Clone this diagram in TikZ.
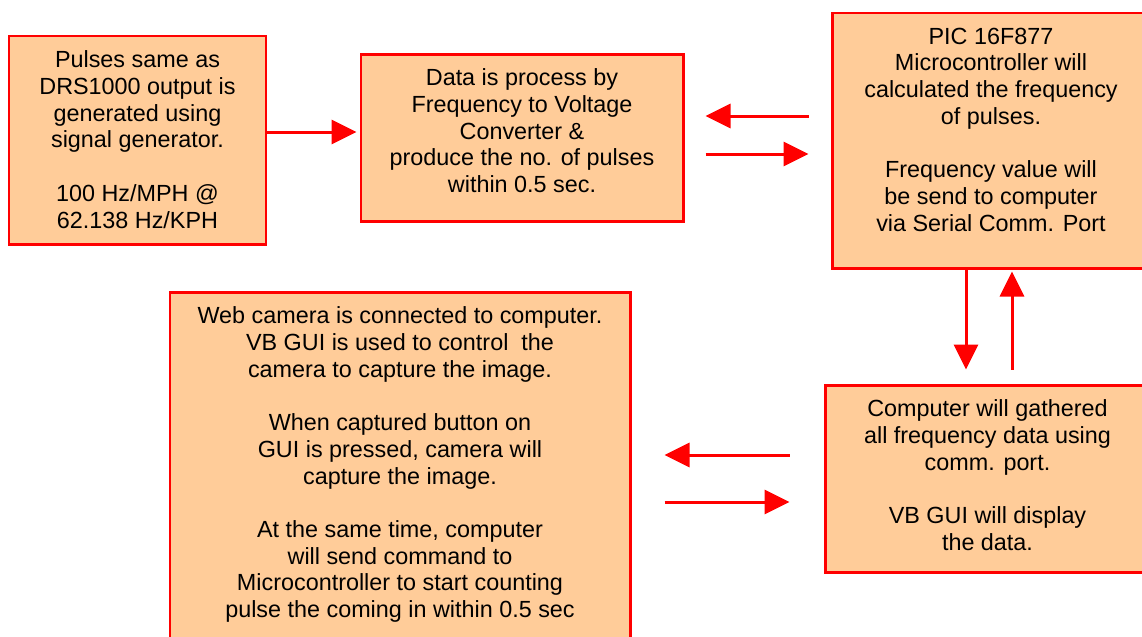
\documentclass[tikz,border=0pt]{standalone}
\usepackage{fontspec}
\setmainfont{Liberation Sans}
\usepackage{tikz}
\usetikzlibrary{arrows.meta}
\usetikzlibrary{positioning}
\definecolor{boxfill}{RGB}{255,204,153}
\definecolor{boxred}{RGB}{255,0,0}

\begin{document}
\begin{tikzpicture}[
    blk/.style={draw=boxred, fill=boxfill, line width=1.7pt, inner sep=0pt},
    txt/.style={align=center, inner sep=0pt, font=\fontsize{13.3}{15.2}\selectfont},
    arr/.style={draw=boxred, line width=1.7pt, -{Triangle[length=0.5cm, width=0.48cm]}}
]
\useasboundingbox (0,0) rectangle (22.84,-12.72);
\clip (0,0) rectangle (22.84,-12.72);

% boxes
\node[blk, minimum width=5.14cm, minimum height=4.16cm] (gen) at (2.75,-2.8) {};
\node[blk, minimum width=6.44cm, minimum height=3.34cm] (proc) at (10.44,-2.75) {};
\node[blk, minimum width=6.36cm, minimum height=5.10cm] (pic) at (19.82,-2.81) {};
\node[blk, minimum width=9.2cm, minimum height=7.36cm] (cam) at (8.0,-9.52) {};
\node[blk, minimum width=6.5cm, minimum height=3.74cm] (comp) at (19.75,-9.57) {};

% texts
\node[txt, below=0.32cm of gen.north] (gentxt) {Pulses same as\\DRS1000 output is\\generated using\\signal generator.\\[15.2pt]100 Hz/MPH @\\62.138 Hz/KPH};
\node[txt, below=0.32cm of proc.north] (proctxt) {Data is process by\\Frequency to Voltage\\Converter \&\\produce the no. of pulses\\within 0.5 sec.};
\node[txt, below=0.32cm of pic.north] (pictxt) {PIC 16F877\\Microcontroller will\\calculated the frequency\\of pulses.\\[15.2pt]Frequency value will\\be send to computer\\via Serial Comm. Port};
\node[txt, below=0.32cm of cam.north] (camtxt) {Web camera is connected to computer.\\VB GUI is used to control\ \ the\\camera to capture the image.\\[15.2pt]When captured button on\\GUI is pressed, camera will\\capture the image.\\[15.2pt]At the same time, computer\\will send command to\\Microcontroller to start counting\\pulse the coming in within 0.5 sec};
\node[txt, below=0.32cm of comp.north] (comptxt) {Computer will gathered\\all frequency data using\\comm. port.\\[15.2pt]VB GUI will display\\the data.};

% arrows
\draw[arr, shorten >=0.06cm] ([yshift=0.16cm]gen.east) -- ([yshift=0.16cm]gen.east -| proc.west);
\draw[arr, shorten <=0.44cm, shorten >=0.42cm] ([yshift=0.49cm]pic.west) -- ([yshift=0.49cm]pic.west -| proc.east);
\draw[arr, shorten <=0.42cm, shorten >=0.44cm] ([yshift=-0.27cm]pic.west -| proc.east) -- ([yshift=-0.27cm]pic.west);
\draw[arr, shorten >=0.28cm] ([xshift=-0.5cm]pic.south) -- ([xshift=-0.5cm]pic.south |- comp.north);
\draw[arr, shorten <=0.28cm, shorten >=0.04cm] ([xshift=0.42cm]pic.south |- comp.north) -- ([xshift=0.42cm]pic.south);
\draw[arr, shorten <=0.68cm, shorten >=0.66cm] ([yshift=0.47cm]comp.west) -- ([yshift=0.47cm]comp.west -| cam.east);
\draw[arr, shorten <=0.66cm, shorten >=0.68cm] ([yshift=-0.47cm]comp.west -| cam.east) -- ([yshift=-0.47cm]comp.west);
\end{tikzpicture}
\end{document}
